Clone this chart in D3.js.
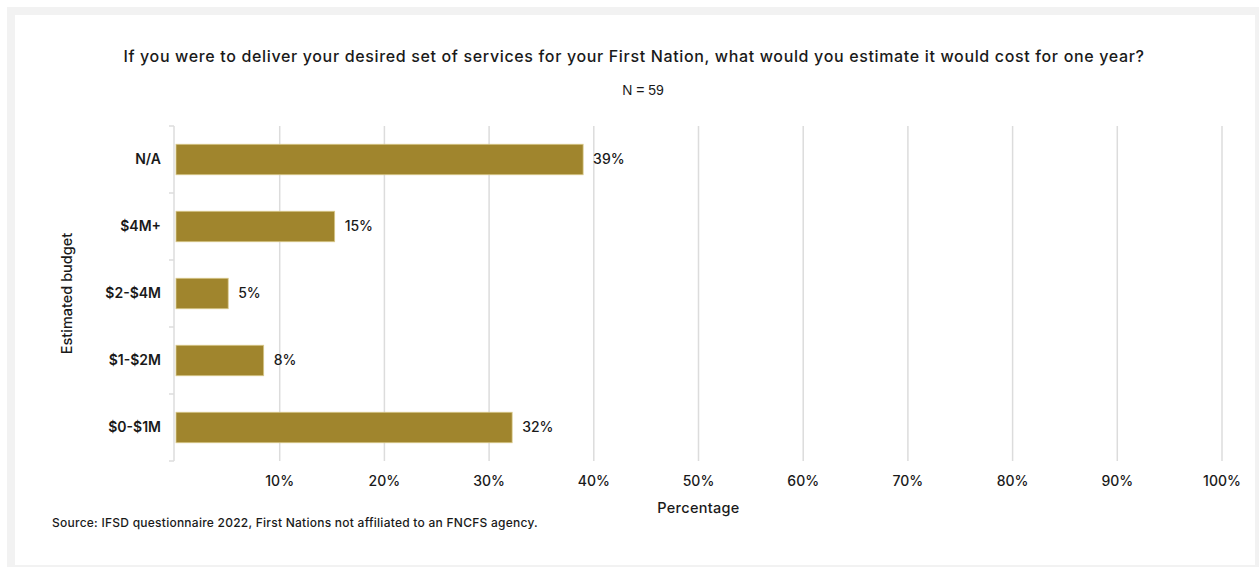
<!DOCTYPE html>
<html>
<head>
<meta charset="utf-8">
<script src="https://cdn.jsdelivr.net/npm/d3@7"></script>
<style>
  html, body { margin: 0; padding: 0; background: #ffffff; }
  svg { display: block; }
  text { font-family: Inter, "Noto Sans", sans-serif; fill: #1a1a1a; }
</style>
</head>
<body>
<svg id="chart" width="1259" height="567"></svg>
<script>
// Survey responses (percent of First Nations, N = 59)
const categories = ["N/A", "$4M+", "$2-$4M", "$1-$2M", "$0-$1M"];
const values = [38.98, 15.25, 5.08, 8.47, 32.2];
const tickValues = [10, 20, 30, 40, 50, 60, 70, 80, 90, 100];

const titleText = "If you were to deliver your desired set of services for your First Nation, what would you estimate it would cost for one year?";
const subtitleText = "N = 59";
const xLabel = "Percentage";
const yLabel = "Estimated budget";
const sourceText = "Source: IFSD questionnaire 2022, First Nations not affiliated to an FNCFS agency.";

const W = 1259, H = 567;
const margin = { left: 175, right: 37, top: 126, bottom: 106 };
const svg = d3.select("#chart");

// Frame and white panel
svg.append("rect").attr("x", 7).attr("y", 7).attr("width", W - 7).attr("height", H - 7).attr("fill", "#f2f2f2");
svg.append("rect").attr("x", 15).attr("y", 15).attr("width", 1240).attr("height", 550).attr("fill", "#ffffff");

const x = d3.scaleLinear().domain([0, 100]).range([margin.left, W - margin.right]);
const y = d3.scaleBand().domain(categories).range([margin.top, H - margin.bottom]).paddingInner(0.545).paddingOuter(0.2725);

// Vertical gridlines
svg.append("g")
  .selectAll("line")
  .data(tickValues)
  .join("line")
  .attr("x1", d => x(d)).attr("x2", d => x(d))
  .attr("y1", margin.top).attr("y2", H - margin.bottom)
  .attr("stroke", "#dcdcdc").attr("stroke-width", 1.5);

// Left axis line with category boundary ticks
const yAxisG = svg.append("g");
const edges = categories.map(c => y(c) - y.step() * y.paddingInner() / 2);
edges.push(H - margin.bottom);
yAxisG.append("line")
  .attr("x1", margin.left - 1).attr("x2", margin.left - 1)
  .attr("y1", margin.top).attr("y2", H - margin.bottom)
  .attr("stroke", "#dcdcdc").attr("stroke-width", 1.5);
yAxisG.selectAll("line.tick")
  .data(edges)
  .join("line")
  .attr("class", "tick")
  .attr("x1", margin.left - 6).attr("x2", margin.left - 1)
  .attr("y1", d => d).attr("y2", d => d)
  .attr("stroke", "#dcdcdc").attr("stroke-width", 1.5);

// Bars
svg.append("g")
  .selectAll("rect")
  .data(categories)
  .join("rect")
  .attr("x", x(0) + 1)
  .attr("y", c => y(c))
  .attr("width", (c, i) => x(values[i]) - x(0) - 1)
  .attr("height", y.bandwidth())
  .attr("fill", "#a0852d")
  .attr("stroke", "#d8c88a")
  .attr("stroke-width", 0.8);

// Value labels
const fmt = d => d3.format(".0f")(d) + "%";
svg.append("g")
  .selectAll("text")
  .data(categories)
  .join("text")
  .attr("x", (c, i) => x(values[i]) + 10)
  .attr("y", c => y(c) + y.bandwidth() / 2)
  .attr("dy", "0.35em")
  .attr("font-size", 14)
  .attr("font-weight", 500)
  .text((c, i) => fmt(values[i]));

// Category labels
svg.append("g")
  .selectAll("text")
  .data(categories)
  .join("text")
  .attr("x", 161)
  .attr("y", c => y(c) + y.bandwidth() / 2)
  .attr("dy", "0.35em")
  .attr("text-anchor", "end")
  .attr("font-size", 14)
  .attr("font-weight", 600)
  .text(c => c);

// X tick labels
svg.append("g")
  .selectAll("text")
  .data(tickValues)
  .join("text")
  .attr("x", d => x(d))
  .attr("y", 486)
  .attr("text-anchor", "middle")
  .attr("font-size", 14)
  .attr("font-weight", 500)
  .text(d => d + "%");

// Axis titles
svg.append("text")
  .attr("x", x(50)).attr("y", 513)
  .attr("text-anchor", "middle")
  .attr("font-size", 14.5).attr("font-weight", 500)
  .attr("letter-spacing", 0.3)
  .text(xLabel);

svg.append("text")
  .attr("transform", `translate(72, ${(margin.top + H - margin.bottom) / 2}) rotate(-90)`)
  .attr("text-anchor", "middle")
  .attr("font-size", 14.5).attr("font-weight", 500)
  .text(yLabel);

// Title and sample size
svg.append("text")
  .attr("x", 634).attr("y", 62)
  .attr("text-anchor", "middle")
  .attr("font-size", 16).attr("font-weight", 500)
  .attr("letter-spacing", 0.65)
  .text(titleText);

svg.append("text")
  .attr("x", 643).attr("y", 95)
  .attr("text-anchor", "middle")
  .style("font-family", "'Liberation Sans', Arial, sans-serif")
  .attr("font-size", 14)
  .text(subtitleText);

// Source note
svg.append("text")
  .attr("x", 52).attr("y", 527)
  .attr("font-size", 12).attr("font-weight", 500)
  .attr("letter-spacing", 0.25)
  .text(sourceText);
</script>
</body>
</html>
